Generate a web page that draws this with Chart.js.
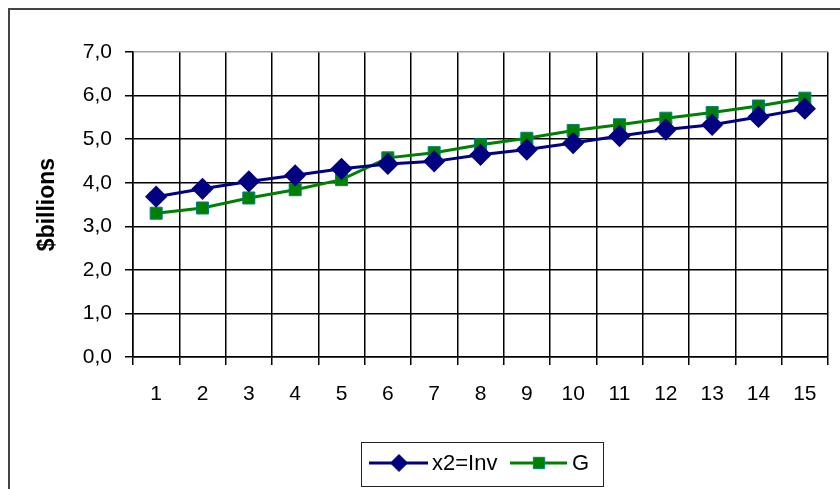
<!DOCTYPE html>
<html>
<head>
<meta charset="utf-8">
<script src="https://cdn.jsdelivr.net/npm/chart.js@4/dist/chart.umd.min.js"></script>
<style>
  html, body { margin:0; padding:0; background:#fff; }
  #wrap { position:relative; width:840px; height:489px; overflow:hidden; }
  #frame { position:absolute; left:8px; top:8px; width:900px; height:600px;
           border-left:2px solid #444; border-top:2px solid #444; }
  canvas { position:absolute; left:0; top:0; }
</style>
</head>
<body>
<div id="wrap">
  <div id="frame"></div>
  <canvas id="c" width="840" height="489"></canvas>
</div>
<script>
  // years 1..15, $billions
  const periods = ["1","2","3","4","5","6","7","8","9","10","11","12","13","14","15"];
  const invValues = [3.68, 3.86, 4.03, 4.17, 4.32, 4.43, 4.49, 4.64, 4.76, 4.91, 5.07, 5.22, 5.33, 5.51, 5.70];
  const gValues   = [3.30, 3.42, 3.65, 3.84, 4.07, 4.57, 4.69, 4.87, 5.02, 5.20, 5.33, 5.48, 5.61, 5.76, 5.94];
  const seriesNames = ["x2=Inv", "G"];

  const NAVY = "#000080", GREEN = "#008000", TEAL = "#008080";
  const FONT = "'Liberation Sans', Arial, sans-serif";

  // Excel-style legend: box with line + marker samples
  const excelLegend = {
    id: "excelLegend",
    afterDraw(chart){
      const ctx = chart.ctx;
      ctx.save();
      ctx.strokeStyle = "#222"; ctx.lineWidth = 1;
      ctx.strokeRect(361.5, 442.5, 242, 44);
      const y = 463;
      const items = [
        { x0:369, x1:428, mx:399, tx:432, color:NAVY, style:"rectRot", r:8.5, fill:NAVY, border:NAVY },
        { x0:510, x1:567, mx:539, tx:572, color:GREEN, style:"rect", r:8, fill:GREEN, border:TEAL },
      ];
      items.forEach((it, i)=>{
        ctx.strokeStyle = it.color; ctx.lineWidth = 3;
        ctx.beginPath(); ctx.moveTo(it.x0, y); ctx.lineTo(it.x1, y); ctx.stroke();
        ctx.fillStyle = it.fill; ctx.strokeStyle = it.border; ctx.lineWidth = 1;
        Chart.helpers.drawPoint(ctx, { pointStyle: it.style, radius: it.r, borderWidth: 1 }, it.mx, y);
        ctx.fillStyle = "#000";
        ctx.font = "22px " + FONT;
        ctx.textBaseline = "middle";
        ctx.fillText(seriesNames[i], it.tx, y + 1);
      });
      ctx.restore();
    }
  };

  new Chart(document.getElementById("c"), {
    type: "line",
    data: {
      labels: periods,
      datasets: [
        { label: seriesNames[0], data: invValues, borderColor: NAVY, backgroundColor: NAVY,
          borderWidth: 3, pointStyle: "rectRot", pointRadius: 9, pointBorderColor: NAVY,
          pointBackgroundColor: NAVY, tension: 0 },
        { label: seriesNames[1], data: gValues, borderColor: GREEN, backgroundColor: GREEN,
          borderWidth: 3, pointStyle: "rect", pointRadius: 8.5, pointBorderColor: TEAL,
          pointBorderWidth: 1, pointBackgroundColor: GREEN, tension: 0 },
      ]
    },
    options: {
      responsive: false,
      animation: false,
      layout: { padding: { top: 52, right: 7, left: 0, bottom: 0 } },
      plugins: { legend: { display: false }, tooltip: { enabled: false } },
      scales: {
        x: {
          offset: true,
          grid: {
            offset: true,
            color: (c)=> c.index === periods.length ? "#a0a0a0" : "#000",
            lineWidth: 1.5,
            tickLength: 8,
            tickColor: "#000"
          },
          border: { color: "#000", width: 1.5 },
          ticks: { color: "#000", font: { family: FONT, size: 21 }, padding: 17, maxRotation: 0, autoSkip: false },
          afterFit: (s)=>{ s.height = 489 - 357; }
        },
        y: {
          min: 0, max: 7,
          grid: {
            color: (c)=> c.tick && c.tick.value === 7 ? "#a0a0a0" : "#000",
            lineWidth: 1.5,
            tickLength: 8,
            tickColor: "#000"
          },
          border: { color: "#000", width: 1.5 },
          ticks: {
            stepSize: 1, color: "#000", padding: 13,
            font: { family: FONT, size: 21 },
            callback: (v)=> v.toFixed(1).replace(".", ",")
          },
          title: {
            display: true, text: "$billions", color: "#000",
            font: { family: FONT, size: 23, weight: "bold" },
            padding: { top: 34, bottom: 0 }
          },
          afterFit: (s)=>{ s.width = 133; }
        }
      }
    },
    plugins: [excelLegend]
  });
</script>
</body>
</html>
